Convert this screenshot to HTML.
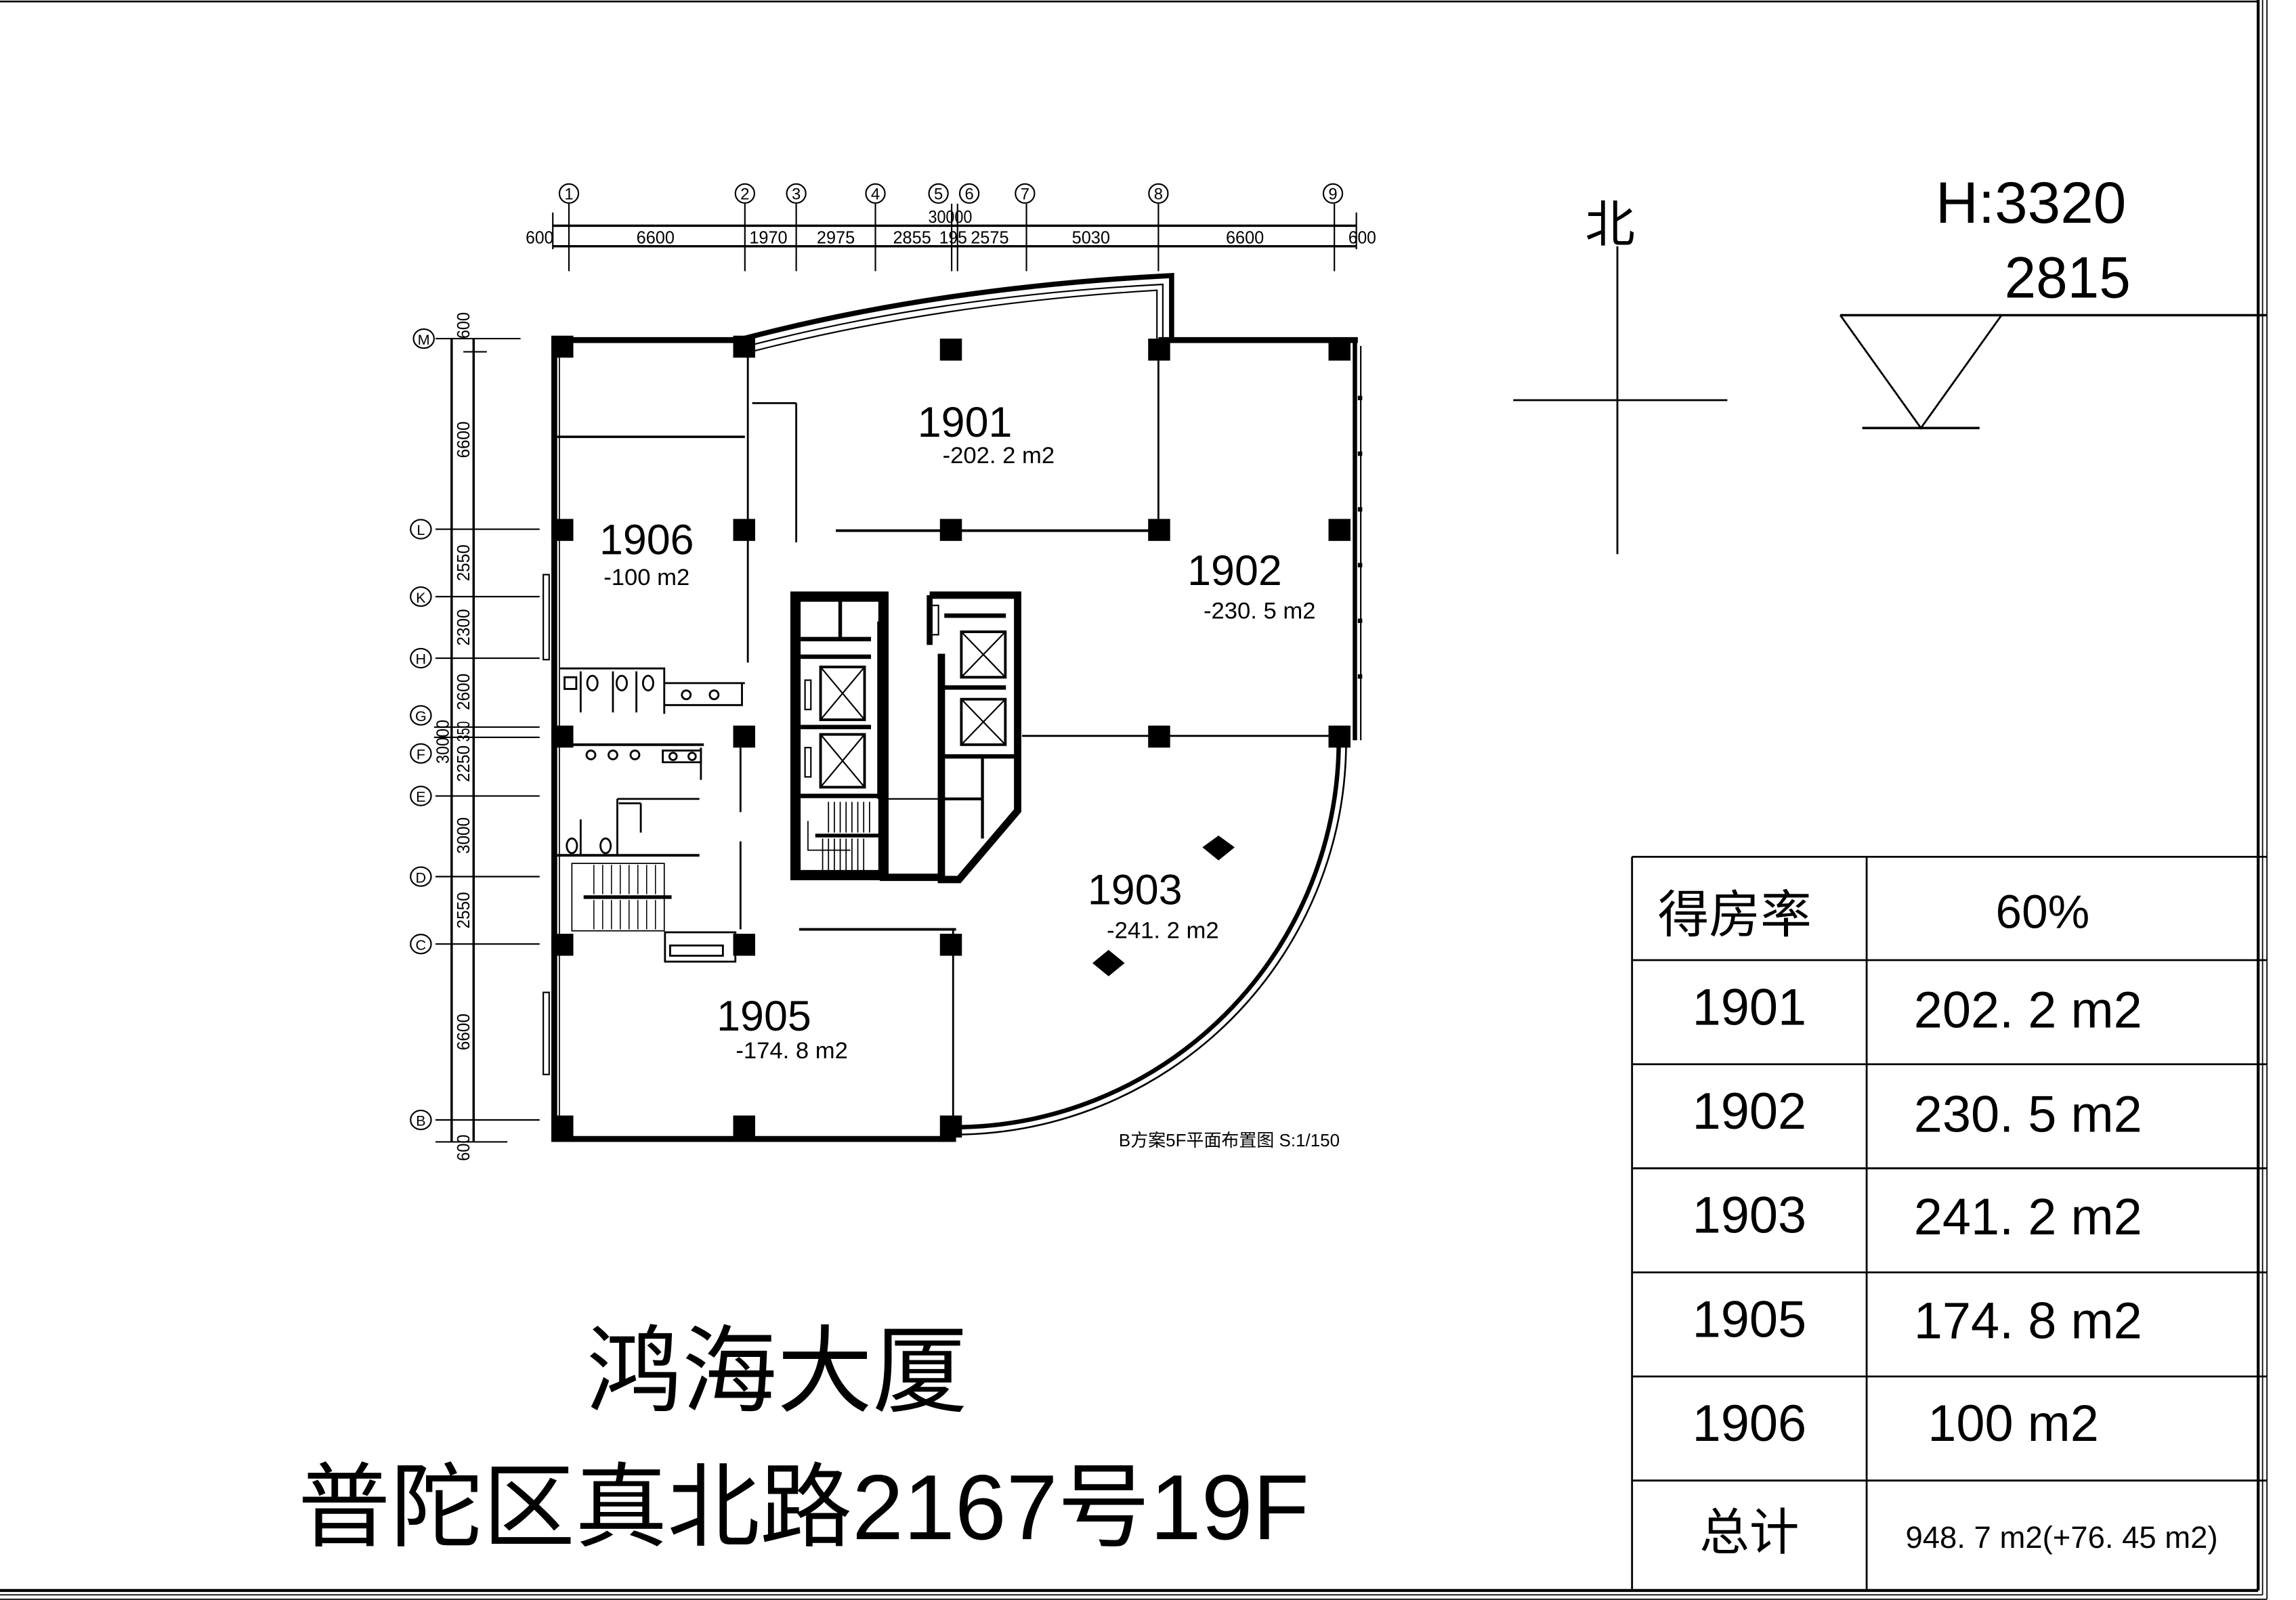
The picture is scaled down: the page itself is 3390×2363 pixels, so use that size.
<!DOCTYPE html>
<html><head><meta charset="utf-8"><style>
html,body{margin:0;padding:0;background:#fff;}
svg{display:block;}
text{font-family:"Liberation Sans","Noto Sans CJK SC",sans-serif;fill:#000;}
</style></head><body>
<svg width="3390" height="2363" viewBox="0 0 1565.8 1091.5" preserveAspectRatio="none" xmlns="http://www.w3.org/2000/svg">
<rect x="0" y="0" width="1565.8" height="1091.5" fill="#fff"/>
<g stroke="#000" fill="none">
<line x1="0" y1="1" x2="1540" y2="1" stroke-width="1.2"/>
<line x1="1540" y1="0" x2="1540" y2="1085" stroke-width="2"/>
<line x1="1543" y1="0" x2="1543" y2="1088" stroke-width="0.8"/>
<line x1="1546" y1="0" x2="1546" y2="1091" stroke-width="0.8"/>
<line x1="0" y1="1085" x2="1540" y2="1085" stroke-width="2"/>
<line x1="0" y1="1088" x2="1543" y2="1088" stroke-width="0.8"/>
<line x1="0" y1="1091" x2="1546" y2="1091" stroke-width="0.8"/>
</g>
<g stroke="#000" stroke-width="1.3" fill="none">
<line x1="1113" y1="584.5" x2="1546" y2="584.5"/>
<line x1="1113" y1="584.5" x2="1113" y2="1085"/>
<line x1="1273" y1="584.5" x2="1273" y2="1085"/>
<line x1="1113" y1="655" x2="1546" y2="655"/>
<line x1="1113" y1="726" x2="1546" y2="726"/>
<line x1="1113" y1="797" x2="1546" y2="797"/>
<line x1="1113" y1="868" x2="1546" y2="868"/>
<line x1="1113" y1="939" x2="1546" y2="939"/>
<line x1="1113" y1="1010" x2="1546" y2="1010"/>
</g>
<g font-size="35" text-anchor="middle">
<text x="1183" y="636" font-size="35">得房率</text>
<text x="1393" y="633" font-size="32">60%</text>
<text x="1193" y="699">1901</text><text x="1383" y="701">202. 2  m2</text>
<text x="1193" y="770">1902</text><text x="1383" y="772">230. 5  m2</text>
<text x="1193" y="841">1903</text><text x="1383" y="842">241. 2  m2</text>
<text x="1193" y="912">1905</text><text x="1383" y="913">174. 8  m2</text>
<text x="1193" y="983">1906</text><text x="1373" y="983">100  m2</text>
<text x="1193" y="1057" font-size="34">总计</text>
<text x="1406" y="1056" font-size="21">948. 7  m2(+76. 45  m2)</text>
</g>
<text x="530" y="958" font-size="65" text-anchor="middle">鸿海大厦</text>
<text x="548" y="1050" font-size="63" text-anchor="middle">普陀区真北路2167号19F</text>
<text x="1098" y="165" font-size="34" text-anchor="middle">北</text>
<g stroke="#000" stroke-width="1.3">
<line x1="1103" y1="168" x2="1103" y2="378"/>
<line x1="1032" y1="273" x2="1178" y2="273"/>
<line x1="1255" y1="215" x2="1546" y2="215" stroke-width="1.6"/>
<polyline points="1255,215 1310,292 1365,215" fill="none"/>
<line x1="1270" y1="292" x2="1350" y2="292" stroke-width="1.6"/>
</g>
<text x="1320" y="152" font-size="40" textLength="130" lengthAdjust="spacingAndGlyphs">H:3320</text>
<text x="1367" y="203" font-size="40" textLength="86" lengthAdjust="spacingAndGlyphs">2815</text>

<g stroke="#000" stroke-width="1" fill="none">
<line x1="377" y1="154" x2="925" y2="154" stroke-width="1.6"/>
<line x1="377" y1="168" x2="925" y2="168" stroke-width="1.6"/>
<line x1="377" y1="145" x2="377" y2="170"/>
<line x1="925" y1="145" x2="925" y2="170"/>
<line x1="388" y1="139" x2="388" y2="185"/><line x1="508" y1="139" x2="508" y2="185"/>
<line x1="543" y1="139" x2="543" y2="185"/><line x1="597" y1="139" x2="597" y2="185"/>
<line x1="649" y1="139" x2="649" y2="185"/><line x1="653" y1="139" x2="653" y2="185"/>
<line x1="700" y1="139" x2="700" y2="185"/><line x1="790" y1="139" x2="790" y2="185"/>
<line x1="910" y1="139" x2="910" y2="185"/>
<ellipse cx="388" cy="132" rx="6.5" ry="6.5"/><ellipse cx="508" cy="132" rx="6.5" ry="6.5"/>
<ellipse cx="543" cy="132" rx="6.5" ry="6.5"/><ellipse cx="597" cy="132" rx="6.5" ry="6.5"/>
<ellipse cx="640" cy="132" rx="6.5" ry="6.5"/><ellipse cx="661" cy="132" rx="6.5" ry="6.5"/>
<ellipse cx="699" cy="132" rx="6.5" ry="6.5"/><ellipse cx="790" cy="132" rx="6.5" ry="6.5"/>
<ellipse cx="909" cy="132" rx="6.5" ry="6.5"/>
</g>
<g font-size="11" text-anchor="middle">
<text x="388" y="136">1</text><text x="508" y="136">2</text><text x="543" y="136">3</text><text x="597" y="136">4</text>
<text x="640" y="136">5</text><text x="661" y="136">6</text><text x="699" y="136">7</text><text x="790" y="136">8</text><text x="909" y="136">9</text>
<text x="648" y="152" font-size="12" textLength="30" lengthAdjust="spacingAndGlyphs">30000</text>
<g font-size="12">
<text x="368" y="166" textLength="19" lengthAdjust="spacingAndGlyphs">600</text>
<text x="447" y="166" textLength="26" lengthAdjust="spacingAndGlyphs">6600</text>
<text x="524" y="166" textLength="26" lengthAdjust="spacingAndGlyphs">1970</text>
<text x="570" y="166" textLength="26" lengthAdjust="spacingAndGlyphs">2975</text>
<text x="622" y="166" textLength="26" lengthAdjust="spacingAndGlyphs">2855</text>
<text x="650" y="166" textLength="19" lengthAdjust="spacingAndGlyphs">195</text>
<text x="675" y="166" textLength="26" lengthAdjust="spacingAndGlyphs">2575</text>
<text x="744" y="166" textLength="26" lengthAdjust="spacingAndGlyphs">5030</text>
<text x="849" y="166" textLength="26" lengthAdjust="spacingAndGlyphs">6600</text>
<text x="929" y="166" textLength="19" lengthAdjust="spacingAndGlyphs">600</text>
</g>
</g>

<g stroke="#000" stroke-width="1" fill="none">
<line x1="308" y1="231" x2="308" y2="779" stroke-width="1.6"/>
<line x1="323" y1="231" x2="323" y2="779" stroke-width="1.6"/>
<line x1="297" y1="231" x2="355" y2="231"/><line x1="316" y1="240" x2="332" y2="240"/>
<line x1="297" y1="361" x2="368" y2="361"/>
<line x1="297" y1="407" x2="368" y2="407"/>
<line x1="297" y1="449" x2="368" y2="449"/>
<line x1="296" y1="496" x2="368" y2="496"/>
<line x1="296" y1="503" x2="368" y2="503"/>
<line x1="297" y1="543" x2="368" y2="543"/>
<line x1="297" y1="598" x2="368" y2="598"/>
<line x1="297" y1="644" x2="368" y2="644"/>
<line x1="297" y1="764" x2="368" y2="764"/>
<line x1="297" y1="779" x2="346" y2="779"/>
<ellipse cx="289" cy="231" rx="7" ry="6.5"/><ellipse cx="287" cy="361" rx="7" ry="6.5"/>
<ellipse cx="287" cy="407" rx="7" ry="6.5"/><ellipse cx="287" cy="449" rx="7" ry="6.5"/>
<ellipse cx="287" cy="488" rx="7" ry="6.5"/><ellipse cx="287" cy="514" rx="7" ry="6.5"/>
<ellipse cx="287" cy="543" rx="7" ry="6.5"/><ellipse cx="287" cy="598" rx="7" ry="6.5"/>
<ellipse cx="287" cy="644" rx="7" ry="6.5"/><ellipse cx="287" cy="764" rx="7" ry="6.5"/>
</g>
<g font-size="10" text-anchor="middle" font-family="Liberation Serif">
<text x="289" y="235">M</text><text x="287" y="365">L</text><text x="287" y="411">K</text><text x="287" y="453">H</text>
<text x="287" y="492">G</text><text x="287" y="518">F</text><text x="287" y="547">E</text><text x="287" y="602">D</text>
<text x="287" y="648">C</text><text x="287" y="768">B</text>
</g>
<g font-size="12" text-anchor="middle">
<text transform="translate(320,222) rotate(-90)" textLength="18" lengthAdjust="spacingAndGlyphs">600</text>
<text transform="translate(320,300) rotate(-90)" textLength="25" lengthAdjust="spacingAndGlyphs">6600</text>
<text transform="translate(320,384) rotate(-90)" textLength="25" lengthAdjust="spacingAndGlyphs">2550</text>
<text transform="translate(320,428) rotate(-90)" textLength="25" lengthAdjust="spacingAndGlyphs">2300</text>
<text transform="translate(320,472) rotate(-90)" textLength="25" lengthAdjust="spacingAndGlyphs">2600</text>
<text transform="translate(320,499) rotate(-90)" textLength="14" lengthAdjust="spacingAndGlyphs">350</text>
<text transform="translate(320,521) rotate(-90)" textLength="25" lengthAdjust="spacingAndGlyphs">2250</text>
<text transform="translate(320,570) rotate(-90)" textLength="25" lengthAdjust="spacingAndGlyphs">3000</text>
<text transform="translate(320,621) rotate(-90)" textLength="25" lengthAdjust="spacingAndGlyphs">2550</text>
<text transform="translate(320,704) rotate(-90)" textLength="25" lengthAdjust="spacingAndGlyphs">6600</text>
<text transform="translate(320,783) rotate(-90)" textLength="18" lengthAdjust="spacingAndGlyphs">600</text>
<text transform="translate(306,506) rotate(-90)" textLength="30" lengthAdjust="spacingAndGlyphs">30000</text>
</g>

<g stroke="#000" fill="none">
<line x1="378" y1="231" x2="378" y2="779" stroke-width="4"/>
<line x1="381.5" y1="240" x2="381.5" y2="774" stroke-width="0.8"/>
<line x1="376" y1="232" x2="508" y2="232" stroke-width="4"/>
<line x1="376" y1="777" x2="652" y2="777" stroke-width="4"/>
<path d="M507,231 Q640,196 799,188 L799,232" stroke-width="3.5"/>
<path d="M510,236 Q640,202 793,194 L793,232" stroke-width="1"/>
<path d="M512,240 Q640,207 789,198 L789,232" stroke-width="1"/>
<line x1="790" y1="232" x2="926" y2="232" stroke-width="4"/>
<line x1="924" y1="232" x2="924" y2="505" stroke-width="3"/>
<line x1="928" y1="236" x2="928" y2="505" stroke-width="1"/>
<path d="M913,505 A263,264 0 0 1 650,769" stroke-width="3"/>
<path d="M918,505 A268,268 0 0 1 652,774" stroke-width="1.2"/>
<rect x="370.5" y="392" width="4" height="58" stroke-width="1"/>
<rect x="370.5" y="677" width="4" height="56" stroke-width="1"/>
<line x1="380" y1="298" x2="508" y2="298" stroke-width="1.6"/>
<line x1="510" y1="232" x2="510" y2="452" stroke-width="1.3"/>
<line x1="513" y1="275" x2="543" y2="275" stroke-width="1.3"/>
<line x1="543" y1="275" x2="543" y2="370" stroke-width="1.3"/>
<line x1="570" y1="362" x2="790" y2="362" stroke-width="1.8"/>
<line x1="790" y1="232" x2="790" y2="362" stroke-width="1.3"/>
<line x1="697" y1="502" x2="913" y2="502" stroke-width="1.3"/>
<line x1="545" y1="634" x2="652" y2="634" stroke-width="1.8"/>
<line x1="650" y1="634" x2="650" y2="777" stroke-width="1.3"/>
</g>
<g fill="#000">
<rect x="376" y="229" width="15" height="15"/><rect x="500" y="229" width="15" height="15"/>
<rect x="641" y="231" width="15" height="15"/><rect x="783" y="231" width="15" height="15"/><rect x="906" y="231" width="15" height="15"/>
<rect x="376" y="354" width="15" height="15"/><rect x="500" y="354" width="15" height="15"/>
<rect x="641" y="354" width="15" height="15"/><rect x="783" y="354" width="15" height="15"/><rect x="906" y="354" width="15" height="15"/>
<rect x="376" y="495" width="15" height="15"/><rect x="500" y="495" width="15" height="15"/>
<rect x="783" y="495" width="15" height="15"/><rect x="906" y="495" width="15" height="15"/>
<rect x="376" y="637" width="15" height="15"/><rect x="500" y="637" width="15" height="15"/><rect x="641" y="637" width="15" height="15"/>
<rect x="376" y="761" width="15" height="15"/><rect x="500" y="761" width="15" height="15"/><rect x="641" y="761" width="15" height="15"/>
<polygon points="831,570 842,578 831,587 820,578"/>
<polygon points="756,648 767,657 756,666 745,657"/>
</g>
<g stroke="#000" fill="none">
<rect x="542.5" y="407" width="60" height="190" stroke-width="7"/>
<line x1="546" y1="436" x2="594" y2="436" stroke-width="3"/>
<line x1="546" y1="448" x2="594" y2="448" stroke-width="3"/>
<line x1="573" y1="410" x2="573" y2="436" stroke-width="2.5"/>
<line x1="546" y1="496" x2="594" y2="496" stroke-width="3"/>
<line x1="546" y1="543" x2="606" y2="543" stroke-width="3"/>
<rect x="559.6" y="455" width="30" height="36" stroke-width="1.8"/>
<path d="M559.6,455 L589.6,491 M589.6,455 L559.6,491" stroke-width="1"/>
<rect x="559.6" y="501" width="30" height="36" stroke-width="1.8"/>
<path d="M559.6,501 L589.6,537 M589.6,501 L559.6,537" stroke-width="1"/>
<rect x="549" y="464" width="4" height="20" stroke-width="1"/>
<rect x="549" y="510" width="4" height="20" stroke-width="1"/>
<line x1="599" y1="424" x2="599" y2="545" stroke-width="1.5"/>
<line x1="599" y1="545" x2="640" y2="545" stroke-width="1"/>
<rect x="600" y="596" width="42" height="5" fill="#000" stroke="none"/>
<path d="M551,560 V580 H580" stroke-width="0.8"/>
<line x1="556" y1="570" x2="605" y2="570" stroke-width="2.5"/>
<path d="M565,547 V568 M569,547 V568 M573,547 V568 M577,547 V568 M581,547 V568 M585,547 V568 M589,547 V568 M593,547 V568 M561,572 V594 M565,572 V594 M569,572 V594 M573,572 V594 M577,572 V594 M581,572 V594 M585,572 V594 M589,572 V594" stroke-width="0.8"/>
</g>
<g stroke="#000" fill="none">
<path d="M634,406 H694 V553 L654,600 H642 V446" stroke-width="5"/>
<path d="M634,406 V440" stroke-width="4"/>
<line x1="644" y1="420" x2="686" y2="420" stroke-width="3"/>
<line x1="644" y1="469" x2="686" y2="469" stroke-width="3"/>
<line x1="644" y1="516" x2="692" y2="516" stroke-width="3"/>
<rect x="655.6" y="431" width="30" height="31" stroke-width="1.8"/>
<path d="M655.6,431 L685.6,462 M685.6,431 L655.6,462" stroke-width="1"/>
<rect x="655.6" y="477" width="30" height="31" stroke-width="1.8"/>
<path d="M655.6,477 L685.6,508 M685.6,477 L655.6,508" stroke-width="1"/>
<line x1="670" y1="516" x2="670" y2="572" stroke-width="2"/>
<line x1="644" y1="545" x2="670" y2="545" stroke-width="2"/>
<rect x="634" y="413" width="6" height="20" stroke-width="1"/>
</g>
<g stroke="#000" fill="none" stroke-width="1.3">
<path d="M382,456 H453 V487"/>
<path d="M453,466 H508 M453,481 H506 V466"/>
<line x1="396" y1="458" x2="396" y2="486"/><line x1="418" y1="458" x2="418" y2="486"/><line x1="434" y1="458" x2="434" y2="486"/>
<ellipse cx="404" cy="466" rx="3.5" ry="5"/><ellipse cx="424" cy="466" rx="3.5" ry="5"/><ellipse cx="442" cy="466" rx="3.5" ry="5"/>
<circle cx="468" cy="474" r="3"/><circle cx="487" cy="474" r="3"/>
<rect x="385" y="462" width="8" height="8"/>
<line x1="385" y1="508" x2="480" y2="508" stroke-width="1.8"/>
<path d="M452,512 H478 V520 H452 Z"/>
<circle cx="459" cy="516" r="2.5"/><circle cx="472" cy="516" r="2.5"/>
<circle cx="403" cy="515" r="3"/><circle cx="418" cy="515" r="3"/><circle cx="433" cy="515" r="3"/>
<line x1="478" y1="510" x2="478" y2="532"/>
<path d="M421,545 H477 M421,545 V583 M437,548 V568 M422,548 H437"/>
<line x1="380" y1="583.5" x2="477" y2="583.5" stroke-width="1.8"/>
<line x1="396" y1="559" x2="396" y2="583"/>
<ellipse cx="390" cy="577" rx="3.5" ry="5"/><ellipse cx="413" cy="577" rx="3.5" ry="5"/>
<line x1="505" y1="574" x2="505" y2="634"/>
<line x1="505" y1="510" x2="505" y2="554"/>
<rect x="390" y="589" width="63" height="46" stroke-width="0.8"/>
<line x1="398" y1="612" x2="458" y2="612" stroke-width="2.5"/>
<path d="M405,590 V610 M411,590 V610 M417,590 V610 M423,590 V610 M429,590 V610 M435,590 V610 M441,590 V610 M447,590 V610 M405,614 V634 M411,614 V634 M417,614 V634 M423,614 V634 M429,614 V634 M435,614 V634 M441,614 V634 M447,614 V634" stroke-width="0.7"/>
<rect x="453.5" y="636" width="48" height="20"/>
<rect x="457" y="645" width="36" height="7"/>
</g>
<g fill="#000">
<rect x="926" y="270" width="3" height="3"/><rect x="926" y="308" width="3" height="3"/><rect x="926" y="346" width="3" height="3"/>
<rect x="926" y="384" width="3" height="3"/><rect x="926" y="422" width="3" height="3"/><rect x="926" y="460" width="3" height="3"/>
</g>
<g font-size="29" text-anchor="middle">
<text x="658" y="298">1901</text>
<text x="441" y="378">1906</text>
<text x="842" y="399">1902</text>
<text x="774" y="617">1903</text>
<text x="521" y="703">1905</text>
</g>
<g font-size="16" text-anchor="middle">
<text x="681" y="316">-202. 2  m2</text>
<text x="441" y="399">-100  m2</text>
<text x="859" y="422">-230. 5  m2</text>
<text x="793" y="640">-241. 2  m2</text>
<text x="540" y="722">-174. 8  m2</text>
</g>
<text x="763" y="782" font-size="12" font-family="Liberation Serif,'Noto Serif CJK SC',serif">B方案5F平面布置图   S:1/150</text>
</svg>
</body></html>
